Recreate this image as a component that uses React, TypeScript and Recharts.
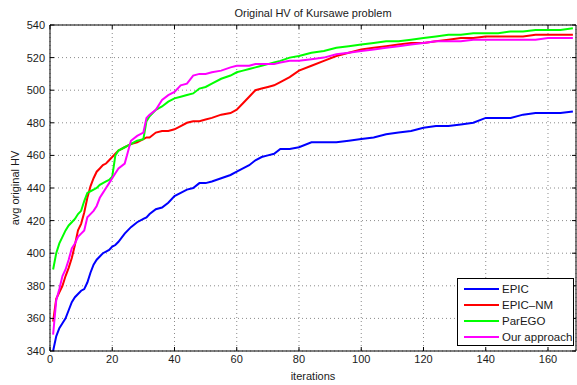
import { LineChart, Line, XAxis, YAxis, CartesianGrid, Label } from "recharts";

const iterations = [
  1, 2, 3, 4, 5, 6, 7, 8, 9, 10, 11, 12, 13, 14, 15, 16, 17, 18, 19, 20, 21, 22, 24, 25, 26, 28, 30, 31, 32, 34,
  36, 38, 40, 42, 44, 46, 48, 50, 52, 55, 58, 60, 62, 64, 66, 68, 70, 72, 74, 77, 80, 84, 88, 92, 96, 100, 104,
  108, 112, 116, 120, 124, 128, 132, 136, 140, 144, 148, 152, 156, 160, 164, 168,
];

const epic = [
  340, 349, 354, 357, 360, 365, 370, 373, 375, 377, 378, 382, 388, 393, 396, 398, 400, 401, 402, 404, 405, 407, 412,
  414, 416, 419, 421, 422, 424, 427, 428, 431, 435, 437, 439, 440, 443, 443, 444, 446, 448, 450, 452, 454, 457, 459,
  460, 461, 464, 464, 465, 468, 468, 468, 469, 470, 471, 473, 474, 475, 477, 478, 478, 479, 480, 483, 483, 483, 485,
  486, 486, 486, 487,
];

const epicNm = [
  358, 372, 376, 380, 386, 391, 397, 405, 414, 418, 425, 434, 441, 446, 450, 452, 454, 455, 457, 459, 461, 463, 465,
  466, 467, 468, 470, 471, 471, 474, 475, 475, 476, 478, 480, 481, 481, 482, 483, 485, 486, 488, 492, 496, 500, 501,
  502, 503, 505, 508, 512, 515, 518, 521, 523, 525, 526, 527, 528, 529, 529, 530, 531, 532, 532, 533, 533, 533, 533,
  534, 534, 534, 534,
];

const parEgo = [
  390, 400, 406, 410, 414, 417, 419, 421, 424, 426, 432, 437, 438, 439, 440, 442, 443, 444, 445, 447, 460, 463, 465,
  466, 467, 469, 470, 481, 484, 488, 490, 493, 495, 496, 497, 498, 501, 502, 504, 507, 509, 511, 512, 513, 514, 515,
  516, 517, 518, 520, 521, 523, 524, 526, 527, 528, 529, 530, 530, 531, 532, 533, 534, 534, 535, 535, 535, 536, 536,
  537, 537, 537, 538,
];

const ourApproach = [
  350, 371, 378, 386, 390, 396, 403, 406, 410, 412, 414, 422, 424, 426, 429, 434, 437, 440, 443, 446, 449, 452, 455,
  462, 469, 472, 474, 483, 485, 488, 494, 497, 499, 503, 504, 509, 510, 510, 511, 512, 514, 515, 515, 515, 516, 516,
  516, 516, 517, 518, 518, 519, 520, 522, 523, 524, 525, 526, 527, 528, 529, 530, 530, 530, 531, 531, 531, 531, 531,
  531, 532, 532, 532,
];

const xTicks = [0, 20, 40, 60, 80, 100, 120, 140, 160];
const yTicks = [340, 360, 380, 400, 420, 440, 460, 480, 500, 520, 540];

const series = [
  { key: "epic", name: "EPIC", color: "#0000ff", values: epic },
  { key: "epicNm", name: "EPIC\u2013NM", color: "#ff0000", values: epicNm },
  { key: "parEgo", name: "ParEGO", color: "#00ff00", values: parEgo },
  { key: "ours", name: "Our approach", color: "#ff00ff", values: ourApproach },
];

const data = iterations.map((it, i) => {
  const row: Record<string, number> = { it };
  series.forEach((s) => {
    row[s.key] = s.values[i];
  });
  return row;
});

const FONT = '"Liberation Sans", Arial, Helvetica, sans-serif';
const tickStyle = { fontSize: 11, fill: "#1a1a1a", fontFamily: FONT };
const labelStyle = { fontSize: 11, fill: "#1a1a1a", fontFamily: FONT };

export default function App() {
  return (
    <div style={{ position: "absolute", left: 0, top: 0, width: 577, height: 385, background: "#fff", fontFamily: FONT }}>
      <LineChart width={577} height={385} data={data} margin={{ top: 24, right: 0, bottom: 0, left: 0 }}>
        <CartesianGrid stroke="#8a8a8a" strokeDasharray="1 3" />
        <XAxis
          dataKey="it"
          type="number"
          domain={[0, 169]}
          ticks={xTicks}
          allowDataOverflow
          height={34}
          stroke="#000"
          tickSize={-4}
          tickMargin={8}
          tick={tickStyle}
        >
          <Label value="iterations" position="insideBottom" offset={5} style={labelStyle} />
        </XAxis>
        <XAxis
          xAxisId="top"
          orientation="top"
          dataKey="it"
          type="number"
          domain={[0, 169]}
          ticks={xTicks}
          allowDataOverflow
          height={1}
          stroke="#000"
          tickSize={-4}
          tickFormatter={() => ""}
        >
          <Label
            content={() => (
              <text x={313} y={17} textAnchor="middle" style={labelStyle}>
                Original HV of Kursawe problem
              </text>
            )}
          />
        </XAxis>
        <YAxis
          type="number"
          domain={[340, 540]}
          ticks={yTicks}
          allowDataOverflow
          width={50}
          stroke="#000"
          tickSize={-4}
          tickMargin={9}
          tick={tickStyle}
        >
          <Label
            content={() => (
              <text x={19} y={188} transform="rotate(-90 19 188)" textAnchor="middle" style={labelStyle}>
                avg original HV
              </text>
            )}
          />
        </YAxis>
        <YAxis
          yAxisId="right"
          orientation="right"
          type="number"
          domain={[340, 540]}
          ticks={yTicks}
          allowDataOverflow
          width={1}
          stroke="#000"
          tickSize={-4}
          tickFormatter={() => ""}
        />
        {series.map((s) => (
          <Line
            key={s.key}
            type="linear"
            dataKey={s.key}
            name={s.name}
            stroke={s.color}
            strokeWidth={2}
            dot={false}
            isAnimationActive={false}
          />
        ))}
        <Line
          xAxisId="top"
          yAxisId="right"
          dataKey="epic"
          stroke="none"
          dot={false}
          activeDot={false}
          legendType="none"
          isAnimationActive={false}
        />
      </LineChart>
      <div
        style={{
          position: "absolute",
          left: 457,
          top: 278,
          width: 115,
          height: 66,
          border: "1px solid #000",
          background: "#fff",
        }}
      >
        {series.map((s, i) => (
          <div
            key={s.key}
            style={{ position: "absolute", left: 6, top: 2 + i * 16, height: 16, display: "flex", alignItems: "center" }}
          >
            <div style={{ width: 35, height: 2, background: s.color }} />
            <span style={{ marginLeft: 3, fontSize: 11.5, color: "#1a1a1a", whiteSpace: "nowrap" }}>{s.name}</span>
          </div>
        ))}
      </div>
    </div>
  );
}
